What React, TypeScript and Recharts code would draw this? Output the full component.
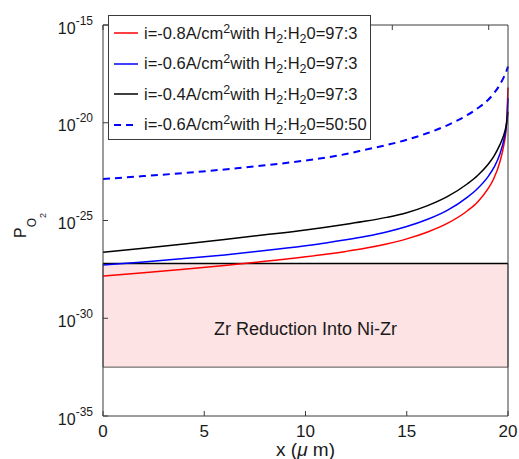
import {
  LineChart,
  Line,
  XAxis,
  YAxis,
  ReferenceArea,
  ReferenceLine,
  Legend,
} from "recharts";

// x position (um) and log10(P_O2)
const xs = [0, 2, 4, 6, 8, 10, 11, 12, 13, 14, 15, 16, 17, 18, 18.5, 19, 19.3, 19.6, 19.8, 19.9, 19.95, 20];
const i08_97 = [-27.84, -27.67, -27.49, -27.3, -27.09, -26.86, -26.73, -26.58, -26.41, -26.2, -25.94, -25.6, -25.15, -24.5, -24.05, -23.4, -22.85, -22.0, -21.1, -20.4, -19.6, -18.2];
const i06_97 = [-27.28, -27.12, -26.95, -26.76, -26.54, -26.29, -26.15, -25.99, -25.81, -25.59, -25.31, -24.95, -24.48, -23.8, -23.36, -22.78, -22.3, -21.6, -20.85, -20.3, -19.8, -18.73];
const i04_97 = [-26.63, -26.42, -26.2, -25.97, -25.73, -25.48, -25.34, -25.19, -25.03, -24.84, -24.6, -24.25, -23.78, -23.12, -22.7, -22.15, -21.72, -21.12, -20.6, -20.2, -19.9, -19.43];
const i06_50 = [-22.88, -22.73, -22.57, -22.39, -22.18, -21.93, -21.78, -21.6, -21.37, -21.14, -20.87, -20.54, -20.13, -19.6, -19.26, -18.85, -18.5, -18.05, -17.65, -17.42, -17.28, -17.12];

const xTicks = [0, 5, 10, 15, 20];
const yTicks = [-35, -30, -25, -20, -15];

// Zr reduction band (log10 bounds)
const zrTop = -27.2;
const zrBottom = -32.5;

const series = [
  { key: "a", current: "-0.8", ratio: "97:3", color: "#ff0000", dash: undefined },
  { key: "b", current: "-0.6", ratio: "97:3", color: "#0000ff", dash: undefined },
  { key: "c", current: "-0.4", ratio: "97:3", color: "#000000", dash: undefined },
  { key: "d", current: "-0.6", ratio: "50:50", color: "#0000ff", dash: "7 5" },
];

const data = xs.map((x, i) => ({
  x,
  a: i08_97[i],
  b: i06_97[i],
  c: i04_97[i],
  d: i06_50[i],
}));

const AXIS = "#3a3a3a";
const TEXT = "#1a1a1a";
const FONT = "'Liberation Sans', Arial, Helvetica, sans-serif";

const BottomTick = ({ x, y, payload }: any) => (
  <g>
    <line x1={x} y1={y} x2={x} y2={y - 5} stroke={AXIS} />
    <text x={x} y={y + 21} textAnchor="middle" fontSize={17} fill={TEXT}>
      {payload.value}
    </text>
  </g>
);

const TopTick = ({ x, y }: any) => (
  <line x1={x} y1={y} x2={x} y2={y + 5} stroke={AXIS} />
);

const LeftTick = ({ x, y, payload }: any) => (
  <g>
    <line x1={x} y1={y} x2={x + 5} y2={y} stroke={AXIS} />
    <text x={x - 10} y={y + 8.5} textAnchor="end" fontSize={16} fill={TEXT}>
      10
      <tspan fontSize={12} dy={-9}>
        {payload.value}
      </tspan>
    </text>
  </g>
);

const RightTick = ({ x, y }: any) => (
  <line x1={x} y1={y} x2={x - 5} y2={y} stroke={AXIS} />
);

const XLabel = ({ viewBox }: any) => (
  <text
    x={viewBox.x + viewBox.width / 2}
    y={viewBox.y + 40}
    textAnchor="middle"
    fontSize={19}
    fill={TEXT}
  >
    x (<tspan fontStyle="italic">μ</tspan> m)
  </text>
);

const YLabel = () => (
  <text x={26} y={238} transform="rotate(-90, 26, 238)" fontSize={16} fill={TEXT}>
    P
    <tspan fontSize={12} dy={10}>
      O
    </tspan>
    <tspan fontSize={9} dy={10}>
      2
    </tspan>
  </text>
);

const ZrLabel = ({ viewBox }: any) => (
  <text
    x={viewBox.x + viewBox.width / 2}
    y={viewBox.y + viewBox.height / 2 + 20}
    textAnchor="middle"
    fontSize={18}
    fill={TEXT}
  >
    Zr Reduction Into Ni-Zr
  </text>
);

const sup = { fontSize: 12.5, verticalAlign: "super", lineHeight: 0 } as const;
const sub = { fontSize: 12.5, verticalAlign: "sub", lineHeight: 0 } as const;

const LegendBox = () => (
  <div
    style={{
      width: 263,
      height: 125,
      boxSizing: "border-box",
      border: `1px solid ${AXIS}`,
      background: "#fff",
      paddingTop: 2,
      fontFamily: FONT,
      fontSize: 16.5,
      color: TEXT,
    }}
  >
    {series.map((s) => (
      <div
        key={s.key}
        style={{ height: 30.5, display: "flex", alignItems: "center", whiteSpace: "nowrap" }}
      >
        <svg width={35} height={10} style={{ flex: "none" }}>
          <line
            x1={5}
            y1={5}
            x2={29}
            y2={5}
            stroke={s.color}
            strokeWidth={s.dash ? 2 : 1.5}
            strokeDasharray={s.dash}
          />
        </svg>
        <span>
          i={s.current}A/cm<span style={sup}>2</span>with H<span style={sub}>2</span>:H
          <span style={sub}>2</span>0={s.ratio}
        </span>
      </div>
    ))}
  </div>
);

export default function App() {
  return (
    <div style={{ position: "absolute", left: 0, top: 0, fontFamily: FONT }}>
      <LineChart
        width={519}
        height={459}
        data={data}
        margin={{ top: 0, right: 0, bottom: 0, left: 0 }}
        style={{ fontFamily: FONT }}
      >
        <XAxis
          xAxisId="b"
          dataKey="x"
          type="number"
          domain={[0, 20]}
          ticks={xTicks}
          interval={0}
          height={43}
          tickSize={0}
          tickMargin={0}
          tickLine={false}
          axisLine={{ stroke: AXIS }}
          tick={<BottomTick />}
          label={{ content: XLabel }}
        />
        <XAxis
          xAxisId="t"
          orientation="top"
          type="number"
          domain={[0, 20]}
          ticks={xTicks}
          interval={0}
          height={25}
          tickSize={0}
          tickMargin={0}
          tickLine={false}
          axisLine={{ stroke: AXIS }}
          tick={<TopTick />}
        />
        <YAxis
          yAxisId="l"
          type="number"
          domain={[-35, -15]}
          ticks={yTicks}
          interval={0}
          width={103}
          tickSize={0}
          tickMargin={0}
          tickLine={false}
          axisLine={{ stroke: AXIS }}
          tick={<LeftTick />}
          label={{ content: YLabel }}
        />
        <YAxis
          yAxisId="r"
          orientation="right"
          type="number"
          domain={[-35, -15]}
          ticks={yTicks}
          interval={0}
          width={11}
          tickSize={0}
          tickMargin={0}
          tickLine={false}
          axisLine={{ stroke: AXIS }}
          tick={<RightTick />}
        />
        <ReferenceArea
          xAxisId="b"
          yAxisId="l"
          x1={0}
          x2={20}
          y1={zrBottom}
          y2={zrTop}
          fill="#fde3e3"
          fillOpacity={1}
          stroke="#555"
          strokeWidth={1}
          label={{ content: ZrLabel }}
        />
        <ReferenceLine xAxisId="b" yAxisId="l" y={zrTop} stroke="#000" strokeWidth={1.5} />
        {series.map((s) => (
          <Line
            key={s.key}
            xAxisId="b"
            yAxisId="l"
            dataKey={s.key}
            type="monotone"
            stroke={s.color}
            strokeWidth={s.dash ? 2 : 1.5}
            strokeDasharray={s.dash}
            dot={false}
            activeDot={false}
            isAnimationActive={false}
          />
        ))}
        <Legend
          layout="horizontal"
          verticalAlign="middle"
          align="center"
          content={<LegendBox />}
          wrapperStyle={{ left: 108, top: 15, width: 263, height: 125 }}
        />
      </LineChart>
    </div>
  );
}
